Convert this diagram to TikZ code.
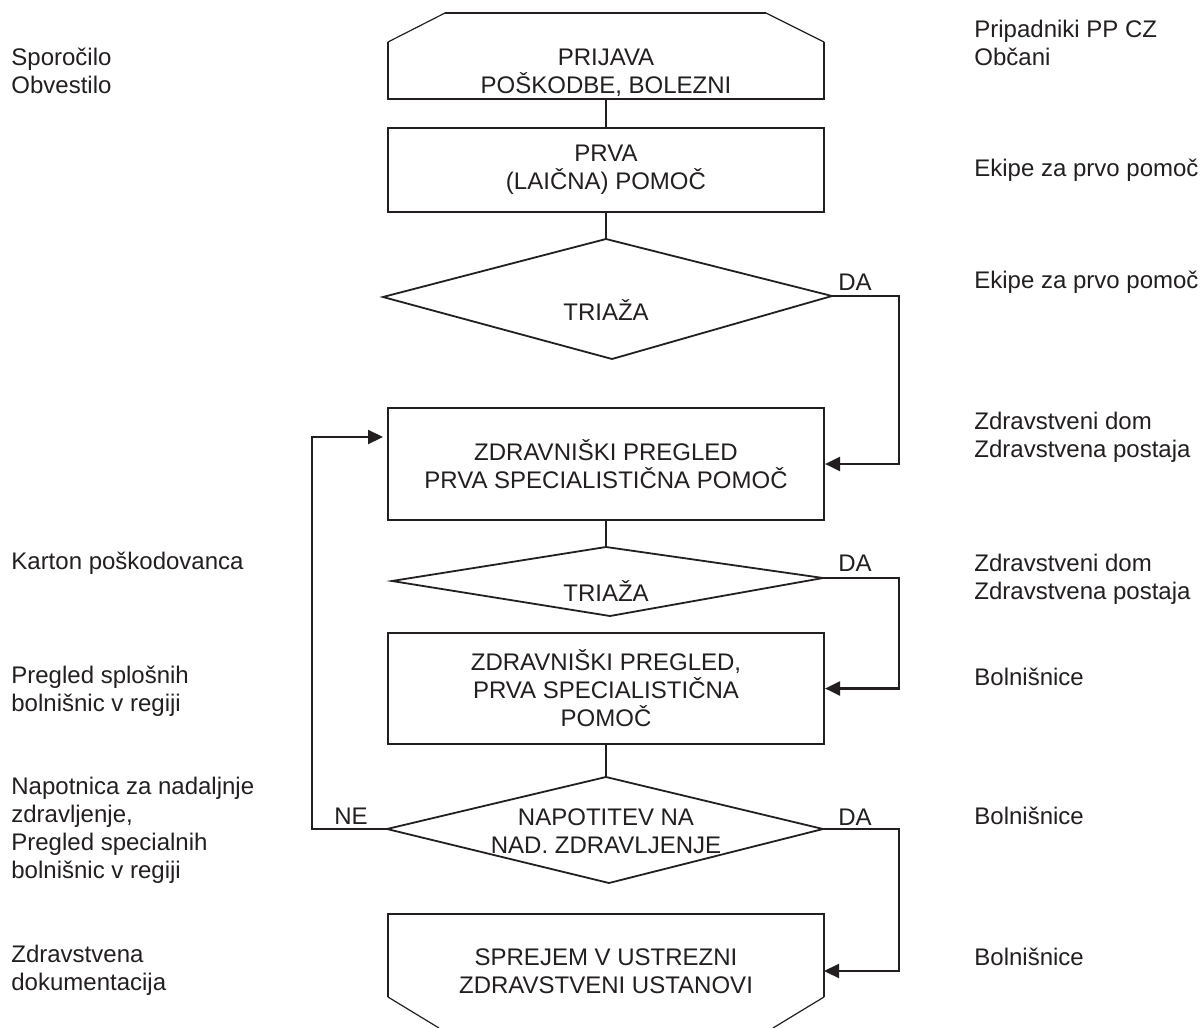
\documentclass[tikz,border=0pt]{standalone}
\usepackage{fontspec}
\setmainfont{Liberation Sans}
\usetikzlibrary{arrows.meta}
\definecolor{ink}{RGB}{35,31,32}
\begin{document}
\begin{tikzpicture}[x=0.5pt,y=-0.5pt,
  line/.style={draw=ink,line width=1.1pt},
  thinline/.style={draw=ink,line width=0.6pt},
  dia/.style={draw=ink,line width=0.9pt,line join=miter},
  lbl/.style={text=ink,font=\fontsize{12}{14}\selectfont,inner sep=0pt},
  boxtext/.style={lbl,align=center},
  sidetext/.style={lbl,align=left,anchor=west},
  procbox/.style={line,rectangle,minimum width=218pt,inner sep=0pt,text=ink,font=\fontsize{12}{14}\selectfont,align=center},
  arr/.style={line,-{Triangle[length=7.5pt,width=7pt]}}
]
\useasboundingbox (0,0) rectangle (1200,1028);
\fill[white] (0,0) rectangle (1200,1028);

% ---- top shape (PRIJAVA)
\draw[line] (445,13) -- (766,13);
\draw[thinline] (445,13) -- (388,42);
\draw[thinline] (766,13) -- (824,42);
\draw[line] (388,42) -- (388,99) -- (824,99) -- (824,42);
\coordinate (topb) at (606,99);
\node[boxtext] (toptext) at (606,73) {PRIJAVA\\POŠKODBE, BOLEZNI};

% ---- boxes
\node[procbox,minimum height=42pt] (prva) at (606,170) {PRVA\\(LAIČNA) POMOČ};
\node[procbox,minimum height=56pt] (zdr) at (606,464) {ZDRAVNIŠKI PREGLED\\PRVA SPECIALISTIČNA POMOČ};
\node[procbox,minimum height=55.5pt] (box3) at (606,688.5) {ZDRAVNIŠKI PREGLED,\\PRVA SPECIALISTIČNA\\POMOČ};

% ---- diamond 1
\coordinate (d1t) at (606,239);
\coordinate (d1r) at (832,296);
\coordinate (d1b) at (612,359);
\coordinate (d1l) at (383,297);
\draw[dia] (d1t) -- (d1r) -- (d1b) -- (d1l) -- cycle;
\node[boxtext] (d1text) at (606,310) {TRIAŽA};

% ---- diamond 2
\coordinate (d2t) at (606,547);
\coordinate (d2r) at (823,578);
\coordinate (d2b) at (610,616);
\coordinate (d2l) at (392,581);
\draw[dia] (d2t) -- (d2r) -- (d2b) -- (d2l) -- cycle;
\node[boxtext] (d2text) at (606,591) {TRIAŽA};

% ---- diamond 3
\coordinate (d3t) at (606,777);
\coordinate (d3r) at (823,829);
\coordinate (d3b) at (609,883);
\coordinate (d3l) at (387,829);
\draw[dia] (d3t) -- (d3r) -- (d3b) -- (d3l) -- cycle;
\node[boxtext] (d3text) at (606,831) {NAPOTITEV NA\\NAD. ZDRAVLJENJE};

% ---- bottom shape
\draw[line] (388,997) -- (388,914) -- (824,914) -- (824,997);
\draw[thinline] (388,997) -- (439,1028);
\draw[thinline] (824,997) -- (773,1028);
\coordinate (botin) at (824,971);
\node[boxtext] (bottext) at (606,971) {SPREJEM V USTREZNI\\ZDRAVSTVENI USTANOVI};

% ---- vertical connectors
\draw[line] (topb) -- (prva.north);
\draw[line] (prva.south) -- (d1t);
\draw[line] (zdr.south) -- (d2t);
\draw[line] (box3.south) -- (d3t);

% ---- DA / NE branches
\coordinate (c1) at (899,296);
\coordinate (c2) at (899,578);
\coordinate (c3) at (899,829);
\coordinate (c4) at (312,829);
\coordinate (zdrin) at (389,437);
\draw[arr] (d1r) -- (c1) |- (zdr.east);
\draw[arr] (d2r) -- (c2) |- (box3.east);
\draw[arr] (d3r) -- (c3) |- (botin);
\draw[arr,shorten >=3pt] (d3l) -- (c4) |- (zdrin);

\node[lbl] (da1) at (855,282) {DA};
\node[lbl] (da2) at (855,563) {DA};
\node[lbl] (da3) at (855,817) {DA};
\node[lbl] (ne3) at (351,816) {NE};

% ---- left column
\node[sidetext] (l1) at (11,71) {Sporočilo\\Obvestilo};
\node[sidetext] (l2) at (11,563) {Karton poškodovanca};
\node[sidetext] (l3) at (11,691) {Pregled splošnih\\bolnišnic v regiji};
\node[sidetext] (l4) at (11,830) {Napotnica za nadaljnje\\zdravljenje,\\Pregled specialnih\\bolnišnic v regiji};
\node[sidetext] (l5) at (11,970) {Zdravstvena\\dokumentacija};

% ---- right column
\node[sidetext] (r1) at (974,42.5) {Pripadniki PP CZ\\Občani};
\node[sidetext] (r2) at (974,170) {Ekipe za prvo pomoč};
\node[sidetext] (r3) at (974,282) {Ekipe za prvo pomoč};
\node[sidetext] (r4) at (974,437.5) {Zdravstveni dom\\Zdravstvena postaja};
\node[sidetext] (r5) at (974,579) {Zdravstveni dom\\Zdravstvena postaja};
\node[sidetext] (r6) at (974,677) {Bolnišnice};
\node[sidetext] (r7) at (974,816) {Bolnišnice};
\node[sidetext] (r8) at (974,957) {Bolnišnice};
\end{tikzpicture}
\end{document}
